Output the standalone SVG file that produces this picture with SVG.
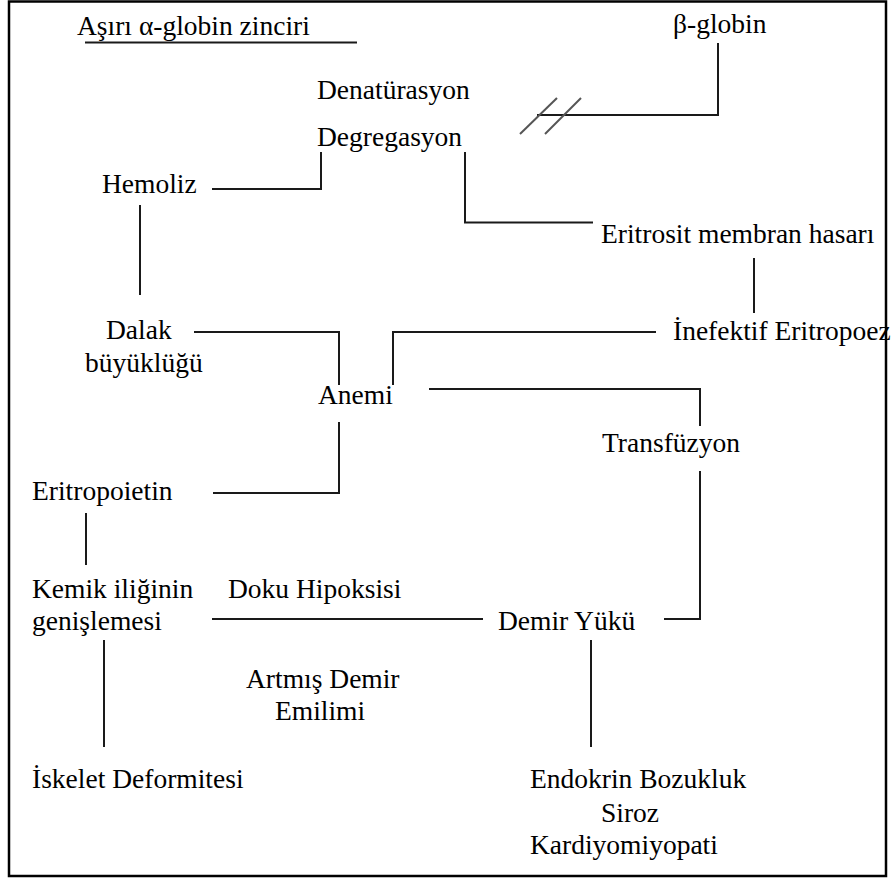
<svg xmlns="http://www.w3.org/2000/svg" width="894" height="879" viewBox="0 0 894 879">
<style>
text{font-family:"Liberation Serif","Times New Roman",serif;font-size:27.5px;fill:#000}
.c path{fill:none;stroke:#1a1a1a;stroke-width:2}
.s{stroke:#555 !important}
</style>
<rect x="0" y="0" width="894" height="879" fill="#fff"/>
<rect x="9" y="1.5" width="877" height="874.5" fill="none" stroke="#000" stroke-width="2.5"/>
<g class="c" id="connectors">
<path d="M85,42.5 H357"/>
<path d="M718,43 V115 H537"/>
<path class="s" d="M520,134 L557,98"/>
<path class="s" d="M545,134 L581,98"/>
<path d="M212,189 H321 V152"/>
<path d="M465,152 V222.5 H593"/>
<path d="M140,205 V295"/>
<path d="M754,258 V313"/>
<path d="M194,332 H339 V385"/>
<path d="M656,332 H393 V385"/>
<path d="M429,389 H700 V426"/>
<path d="M339,422 V493 H213"/>
<path d="M86,513 V565"/>
<path d="M212,619 H483"/>
<path d="M700,471 V619 H664"/>
<path d="M104,640 V747"/>
<path d="M591,640 V747"/>
</g>
<g id="n-asiri"><text x="77" y="35">Aşırı α-globin zinciri</text></g>
<g id="n-beta"><text x="673" y="33">β-globin</text></g>
<g id="n-denat"><text x="317" y="99">Denatürasyon</text></g>
<g id="n-degreg"><text x="317" y="146">Degregasyon</text></g>
<g id="n-hemoliz"><text x="102" y="193">Hemoliz</text></g>
<g id="n-eritrosit"><text x="601" y="243">Eritrosit membran hasarı</text></g>
<g id="n-dalak"><text x="106" y="339">Dalak</text><text x="85" y="372">büyüklüğü</text></g>
<g id="n-inefektif"><text x="673" y="340">İnefektif Eritropoez</text></g>
<g id="n-anemi"><text x="318" y="404">Anemi</text></g>
<g id="n-transfuzyon"><text x="602" y="452">Transfüzyon</text></g>
<g id="n-eritropoietin"><text x="32" y="500">Eritropoietin</text></g>
<g id="n-kemik"><text x="32" y="598">Kemik iliğinin</text><text x="32" y="630">genişlemesi</text></g>
<g id="n-doku"><text x="228" y="598">Doku Hipoksisi</text></g>
<g id="n-demir"><text x="498" y="630">Demir Yükü</text></g>
<g id="n-artmis"><text x="246" y="688">Artmış Demir</text><text x="275" y="720">Emilimi</text></g>
<g id="n-iskelet"><text x="32" y="788">İskelet Deformitesi</text></g>
<g id="n-endokrin"><text x="530" y="788">Endokrin Bozukluk</text><text x="601" y="822">Siroz</text><text x="530" y="854">Kardiyomiyopati</text></g>
</svg>
